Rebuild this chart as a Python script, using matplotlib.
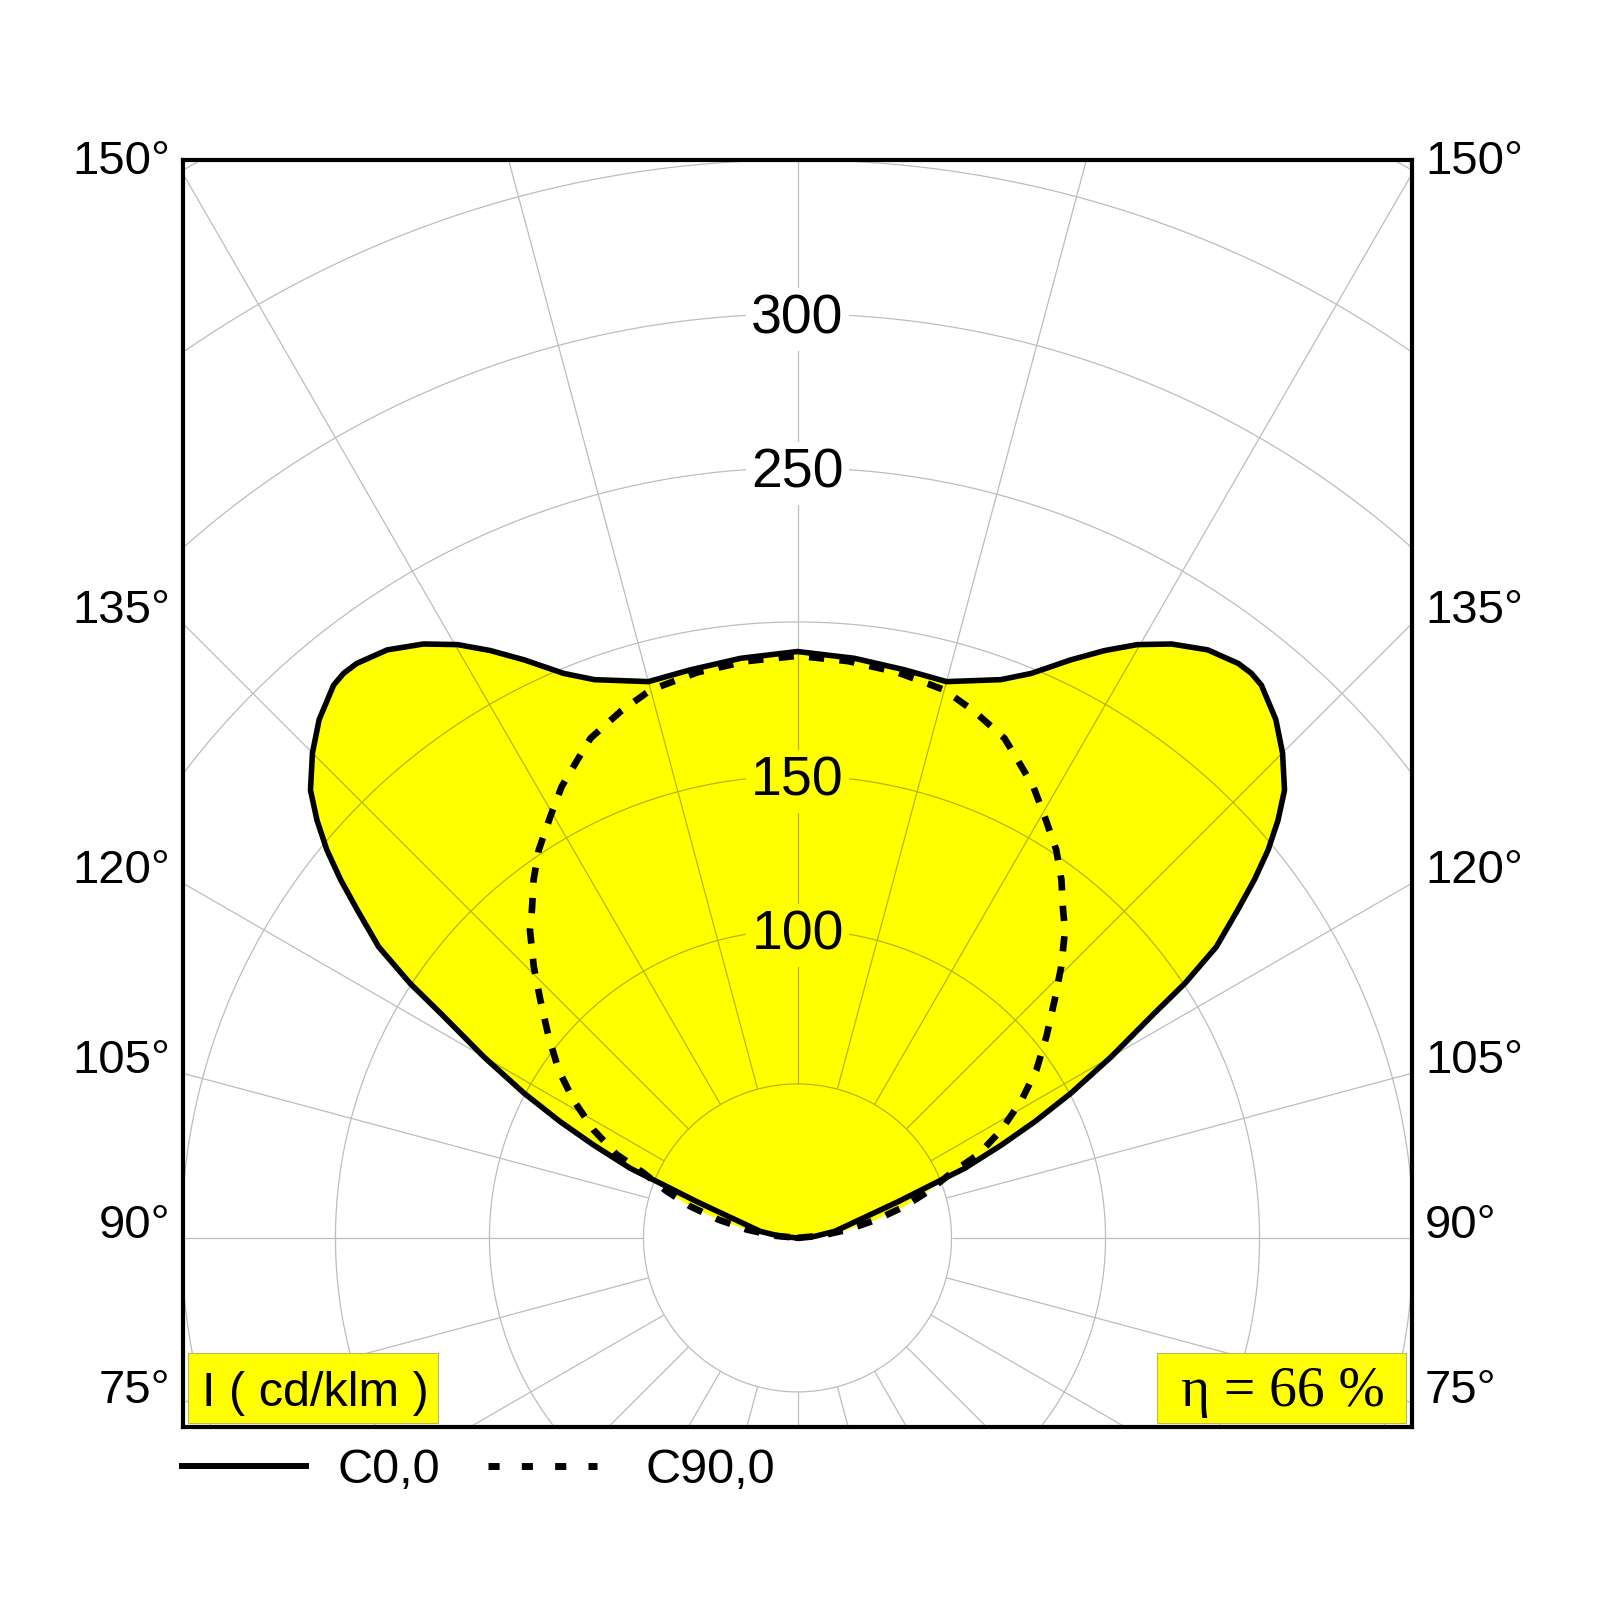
"""
Photometric polar diagram (luminous intensity distribution, cd/klm).
"""

import numpy as np
import matplotlib
matplotlib.use('Agg')
import matplotlib.pyplot as plt
from matplotlib.collections import LineCollection
from matplotlib.patches import Rectangle
from matplotlib.lines import Line2D

# ── Data ─────────────────────────────────────────────────────────────
# gamma: angle from nadir in degrees, value: intensity in cd/klm
gamma_c0 = [90, 95, 100, 109.8, 111.6, 112.6, 114.5, 116.1, 117.9, 120.0,
            121.75, 122.2, 123.3, 124.8, 126.7, 128.1, 129.5, 131.0, 132.6, 135.0,
            137.3, 140.0, 141.2, 142.5, 145.1, 147.8, 150.2, 152.4, 154.7, 157.5,
            160, 165, 169.3, 174.4, 180]
i_c0 = [0, 5.5, 12.3, 34.7, 46.8, 58.8, 72.8, 85.8, 100.5, 117.6,
        132.5, 137, 150.4, 165.6, 178.3, 188.5, 198, 206.7, 214.8, 222.7,
        229, 234.3, 235.2, 235.1, 232.8, 227.9, 222, 215.2, 207.6, 198.4,
        192.9, 187, 187.7, 189.1, 190.4]

gamma_c90 = [90, 95.5, 99.3, 103, 106.4, 109.6, 112.9, 114.8, 117.9, 121.6,
             125.1, 129, 132.8, 135.8, 139, 141, 143.6, 146.3, 149.6, 152.4,
             155.3, 157.5, 161.4, 165, 170, 175, 180]
i_c90 = [0, 7.8, 16.6, 26.3, 36.3, 45, 54.3, 64.8, 74.9, 85.4,
         94.8, 104, 113.8, 122.8, 132.4, 137, 144.4, 151.4, 158.6, 165.3,
         170.9, 175.6, 180.3, 184.2, 186.5, 188, 189]

ring_values = [50, 100, 150, 200, 250, 300, 350, 400]
ring_labels = [100, 150, 250, 300]
ray_angles = list(range(0, 360, 15))
side_labels = [75, 90, 105, 120, 135, 150]
efficiency = 66
unit_label = "I ( cd/klm )"
legend_names = ["C0,0", "C90,0"]

YELLOW = "#ffff00"
GRID = "#bdbdbd"
GRID_ON_FILL = "#b4b400"

plt.rcParams.update({
    'font.family': ['Liberation Sans', 'DejaVu Sans'],
    'lines.scale_dashes': False,
})


def to_xy(gamma, value):
    """Full symmetric outline: right half 90->180, left half 180->90."""
    g = np.radians(np.asarray(gamma, dtype=float))
    v = np.asarray(value, dtype=float)
    xr, yr = v * np.sin(g), -v * np.cos(g)
    x = np.concatenate([xr, -xr[::-1]])
    y = np.concatenate([yr, yr[::-1]])
    return x, y


fig = plt.figure(figsize=(16, 16), dpi=100)
ax = fig.add_axes([183 / 1600, 173 / 1600, 1229 / 1600, 1267 / 1600])
XL, YL = (-199.5, 199.5), (-61.4, 350)
ax.set_xlim(*XL)
ax.set_ylim(*YL)
ax.set_xticks([])
ax.set_yticks([])
for sp in ax.spines.values():
    sp.set_linewidth(3)
    sp.set_zorder(10)

# ── Grid: rings + rays starting at the innermost ring ────────────────
segs = []
t = np.linspace(0, 2 * np.pi, 721)
for R in ring_values:
    segs.append(np.column_stack([R * np.cos(t), R * np.sin(t)]))
r0, r1 = ring_values[0], 600
for a in ray_angles:
    ca, sa = np.cos(np.radians(a)), np.sin(np.radians(a))
    segs.append([(r0 * ca, r0 * sa), (r1 * ca, r1 * sa)])

ax.add_collection(LineCollection(segs, colors=GRID, linewidths=0.9, zorder=1))

# ── Fill ─────────────────────────────────────────────────────────────
x0, y0 = to_xy(gamma_c0, i_c0)
x90, y90 = to_xy(gamma_c90, i_c90)
poly = ax.fill(x0, y0, color=YELLOW, lw=0, zorder=2)[0]
ax.fill(x90, y90, color=YELLOW, lw=0, zorder=2)

lc_in = LineCollection(segs, colors=GRID_ON_FILL, linewidths=0.9, zorder=3)
ax.add_collection(lc_in)
lc_in.set_clip_path(poly)

# ── Curves ───────────────────────────────────────────────────────────
ax.plot(x0, y0, color='black', lw=4.0, zorder=5, solid_joinstyle='round')
ax.plot(x90, y90, color='black', lw=4.8, zorder=4,
        linestyle=(0, (11, 11)), dash_capstyle='butt')

# ── Ring labels on the vertical axis ─────────────────────────────────
top_value = i_c0[-1]
for v in ring_labels:
    fc = YELLOW if v < top_value else 'white'
    ax.text(0, v - 6.3, str(v), ha='center', va='baseline', fontsize=40,
            zorder=6, bbox=dict(boxstyle='square,pad=0.1', fc=fc, ec='none'))

# ── Angle labels at the frame edges ──────────────────────────────────
for g in side_labels:
    yv = -XL[1] / np.tan(np.radians(g)) if g != 90 else 0.0
    ax.text(XL[0] - 4.2, yv, f"{g}°", ha='right', va='baseline',
            fontsize=34, clip_on=False)
    ax.text(XL[1] + 4.2, yv, f"{g}°", ha='left', va='baseline',
            fontsize=34, clip_on=False)

# ── Boxes: unit and efficiency ───────────────────────────────────────
ax.add_patch(Rectangle((0.0041, 0.0034), 0.203, 0.0552, transform=ax.transAxes,
                       fc=YELLOW, ec='#b8b860', lw=0.8, zorder=7))
ax.text(0.108, 0.0166, unit_label, transform=ax.transAxes, ha='center',
        va='baseline', fontsize=35, zorder=8)
ax.add_patch(Rectangle((0.7923, 0.0034), 0.2026, 0.0552, transform=ax.transAxes,
                       fc=YELLOW, ec='#b8b860', lw=0.8, zorder=7))
ax.text(0.895, 0.0166, f"η = {efficiency} %", transform=ax.transAxes,
        ha='center', va='baseline', fontsize=40, zorder=8,
        family=['Liberation Serif', 'DejaVu Serif'])

# ── Legend under the frame ───────────────────────────────────────────
ly = 1 - 1466 / 1600
fig.add_artist(Line2D([182 / 1600, 306 / 1600], [ly, ly], color='black',
                      lw=4.3, transform=fig.transFigure))
fig.add_artist(Line2D([488 / 1600, 597 / 1600], [ly, ly], color='black',
                      lw=5, linestyle=(0, (8, 16)), dash_capstyle='butt',
                      transform=fig.transFigure))
fig.text(337 / 1600, 1 - 1483 / 1600, legend_names[0], fontsize=35,
         ha='left', va='baseline')
fig.text(645 / 1600, 1 - 1483 / 1600, legend_names[1], fontsize=35,
         ha='left', va='baseline')

fig.savefig("out.png", dpi=100, facecolor='white')
